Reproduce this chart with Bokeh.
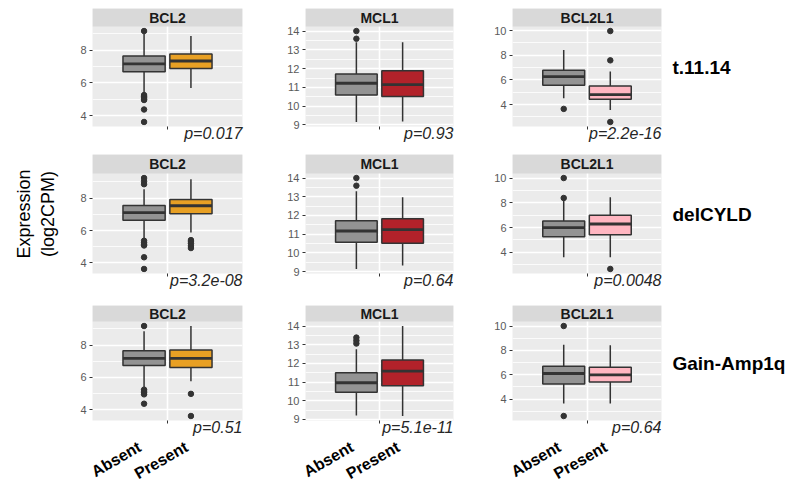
import math
from bokeh.plotting import figure
from bokeh.models import (Range1d, FixedTicker, LinearAxis, BoxAnnotation, Label,
                          ColumnDataSource, Title)
from bokeh.layouts import row, column
from bokeh.embed import file_html
from bokeh.resources import INLINE

# ---------------- data ----------------
genes = ["BCL2", "MCL1", "BCL2L1"]
events = ["t.11.14", "delCYLD", "Gain-Amp1q"]
groups = ["Absent", "Present"]

# panels in row-major order: (event, gene)
absent_low  = [5.31, 9.16, 4.51, 5.43, 9.14, 3.60, 5.39, 9.21, 3.63]
absent_q1   = [6.67, 10.60, 5.57, 6.63, 10.57, 5.27, 6.73, 10.45, 5.24]
absent_med  = [7.16, 11.22, 6.27, 7.10, 11.17, 6.00, 7.18, 10.96, 6.10]
absent_q3   = [7.63, 11.71, 6.78, 7.55, 11.72, 6.53, 7.65, 11.49, 6.69]
absent_high = [9.02, 13.41, 8.43, 8.55, 13.29, 8.20, 8.86, 12.76, 8.47]
absent_out = [
    [9.16, 5.25, 5.15, 5.08, 5.00, 4.95, 4.37, 3.61],
    [14.0, 13.59],
    [3.65],
    [9.24, 9.04, 8.86, 5.37, 5.25, 5.15, 5.08, 4.35, 3.63],
    [14.0, 13.59],
    [10.0, 8.39],
    [9.18, 5.24, 5.15, 5.05, 4.95, 4.37],
    [13.38, 13.22, 13.06],
    [10.0, 2.61],
]
present_low  = [5.69, 9.19, 3.57, 5.88, 9.32, 3.60, 5.76, 9.18, 3.63]
present_q1   = [6.88, 10.51, 4.43, 7.04, 10.51, 5.43, 6.61, 10.80, 5.40]
present_med  = [7.33, 11.15, 4.81, 7.53, 11.24, 6.29, 7.18, 11.58, 5.99]
present_q3   = [7.76, 11.89, 5.51, 7.92, 11.83, 6.99, 7.69, 12.18, 6.61]
present_high = [8.86, 13.41, 6.68, 9.16, 12.97, 8.44, 9.18, 14.0, 8.41]
present_out = [
    [],
    [],
    [9.97, 7.59, 2.59],
    [5.41, 5.30, 5.20, 5.05, 4.92],
    [],
    [2.66],
    [4.98, 3.61],
    [],
    [],
]
p_values = ["p=0.017", "p=0.93", "p=2.2e-16",
            "p=3.2e-08", "p=0.64", "p=0.0048",
            "p=0.51", "p=5.1e-11", "p=0.64"]

bcl2_ticks = [4, 6, 8]
mcl1_ticks = [9, 10, 11, 12, 13, 14]
bcl2l1_ticks = [4, 6, 8, 10]

absent_color = "#939393"
present_colors = ["#E8A024", "#B2222A", "#FFB6C1"]

# ---------------- styling / layout ----------------
FONT = "Liberation Sans"
PANEL_PX = [100, 100, 99]
HEADER_PX = [18, 19, 16]
FRAME_W = [150, 148, 149]
BORDER_L = [92, 30, 30]
BORDER_R = [33, 29, 131]
BORDER_T = [8, 0, 0]
BORDER_B = [28, 32, 59]
tick_sets = [bcl2_ticks, mcl1_ticks, bcl2l1_ticks]
DODGE = 0.1875
BOX_W = 0.3375
LABEL_SHIFT = 0.035   # rotated group labels end just left of the box centre
box_x = [1.0 - DODGE, 1.0 + DODGE]


def minor_ticks(ticks, lo, hi):
    step = ticks[1] - ticks[0]
    out = []
    t = ticks[0] - step / 2
    while t <= hi:
        if t >= lo:
            out.append(t)
        t += step
    return out


def make_panel(r, c):
    i = r * 3 + c
    ticks = tick_sets[c]
    vals = ([absent_low[i], absent_high[i], present_low[i], present_high[i]]
            + absent_out[i] + present_out[i])
    lo, hi = min(vals), max(vals)
    pad = 0.05 * (hi - lo)
    y0, y1 = lo - pad, hi + pad
    head = (y1 - y0) * HEADER_PX[r] / PANEL_PX[r]
    ytop = y1 + head

    p = figure(frame_width=FRAME_W[c], frame_height=PANEL_PX[r] + HEADER_PX[r],
               x_range=Range1d(0.4, 1.6), y_range=Range1d(y0, ytop),
               output_backend="svg", toolbar_location=None,
               min_border_left=BORDER_L[c], min_border_right=BORDER_R[c],
               min_border_top=BORDER_T[r], min_border_bottom=BORDER_B[r],
               background_fill_color="#EBEBEB", border_fill_color="white",
               outline_line_color=None)

    # grids
    p.xgrid.ticker = FixedTicker(ticks=[1.0])
    p.xgrid.grid_line_color = "white"
    p.xgrid.grid_line_width = 1.6
    p.ygrid.ticker = FixedTicker(ticks=ticks, minor_ticks=minor_ticks(ticks, y0, y1))
    p.ygrid.grid_line_color = "white"
    p.ygrid.grid_line_width = 1.6
    p.ygrid.minor_grid_line_color = "white"
    p.ygrid.minor_grid_line_width = 0.8

    # y axis
    ya = p.yaxis[0]
    ya.ticker = FixedTicker(ticks=ticks)
    ya.axis_line_color = None
    ya.major_tick_line_color = "#333333"
    ya.major_tick_in = 0
    ya.major_tick_out = 3
    ya.minor_tick_line_color = None
    ya.major_label_text_font = FONT
    ya.major_label_text_font_size = "11px"
    ya.major_label_text_color = "#5A5A5A"
    ya.major_label_standoff = 3
    if c == 0 and r == 1:
        ya.axis_label = "Expression\n(log2CPM)"
        ya.axis_label_text_font = FONT
        ya.axis_label_text_font_size = "18px"
        ya.axis_label_text_font_style = "normal"
        ya.axis_label_text_color = "black"
        ya.axis_label_standoff = 19

    # x axis: centre tick mark only, labels not drawn
    xa = p.xaxis[0]
    xa.ticker = FixedTicker(ticks=[1.0])
    xa.axis_line_color = None
    xa.major_tick_line_color = "#333333"
    xa.major_tick_in = 0
    xa.major_tick_out = 3
    xa.minor_tick_line_color = None
    xa.major_label_text_font_size = "1px"
    xa.major_label_text_color = None
    xa.major_label_standoff = 0

    # p-value below the panel, right aligned
    t = Title(text=p_values[i], align="right", vertical_align="top",
              text_font=FONT, text_font_style="italic",
              text_font_size="16px", text_color="#262626")
    try:
        t.standoff = -9
    except Exception:
        t.standoff = 0
    p.add_layout(t, "below")

    if r == 2:
        lx = [x - LABEL_SHIFT for x in box_x]
        la = LinearAxis(ticker=FixedTicker(ticks=lx),
                        major_label_overrides={lx[0]: groups[0], lx[1]: groups[1]},
                        axis_line_color=None, major_tick_line_color=None,
                        minor_tick_line_color=None,
                        major_tick_in=0, major_tick_out=0,
                        major_label_orientation=math.radians(30),
                        major_label_text_font=FONT,
                        major_label_text_font_style="bold",
                        major_label_text_font_size="16px",
                        major_label_text_color="black",
                        major_label_standoff=12)
        p.add_layout(la, "below")

    # row label on the right of the last column
    if c == 2:
        ymid = (y0 + ytop) / 2
        ra = LinearAxis(ticker=FixedTicker(ticks=[ymid]),
                        major_label_overrides={ymid: events[r]},
                        axis_line_color=None, major_tick_line_color=None,
                        minor_tick_line_color=None,
                        major_tick_in=0, major_tick_out=0,
                        major_label_text_font=FONT,
                        major_label_text_font_style="bold",
                        major_label_text_font_size="19px",
                        major_label_text_color="black",
                        major_label_standoff=11)
        p.add_layout(ra, "right")

    # boxes
    src = ColumnDataSource(dict(
        x=box_x,
        low=[absent_low[i], present_low[i]],
        q1=[absent_q1[i], present_q1[i]],
        med=[absent_med[i], present_med[i]],
        q3=[absent_q3[i], present_q3[i]],
        high=[absent_high[i], present_high[i]],
        left=[x - BOX_W / 2 for x in box_x],
        right=[x + BOX_W / 2 for x in box_x],
        fill=[absent_color, present_colors[c]],
    ))
    p.segment(x0="x", y0="q3", x1="x", y1="high", source=src,
              line_color="#333333", line_width=1.5)
    p.segment(x0="x", y0="low", x1="x", y1="q1", source=src,
              line_color="#333333", line_width=1.5)
    p.vbar(x="x", width=BOX_W, bottom="q1", top="q3", source=src,
           fill_color="fill", line_color="#333333", line_width=1.5)
    p.segment(x0="left", y0="med", x1="right", y1="med", source=src,
              line_color="#333333", line_width=2.8)

    ox = [box_x[0]] * len(absent_out[i]) + [box_x[1]] * len(present_out[i])
    oy = absent_out[i] + present_out[i]
    if oy:
        p.scatter(ox, oy, size=5.5, color="#333333")

    # strip header
    p.add_layout(BoxAnnotation(bottom=y1, fill_color="#D9D9D9", fill_alpha=1.0,
                               line_color=None, level="glyph"))
    p.add_layout(Label(x=1.0, y=PANEL_PX[r] + HEADER_PX[r] / 2, y_units="screen",
                       text=genes[c], text_align="center", text_baseline="middle",
                       text_font=FONT, text_font_style="bold",
                       text_font_size="14px", text_color="#1A1A1A"))
    return p


rows = [row(*[make_panel(r, c) for c in range(3)], spacing=0) for r in range(3)]
layout = column(*rows, spacing=0)

open("out.html", "w").write(file_html(layout, INLINE))
